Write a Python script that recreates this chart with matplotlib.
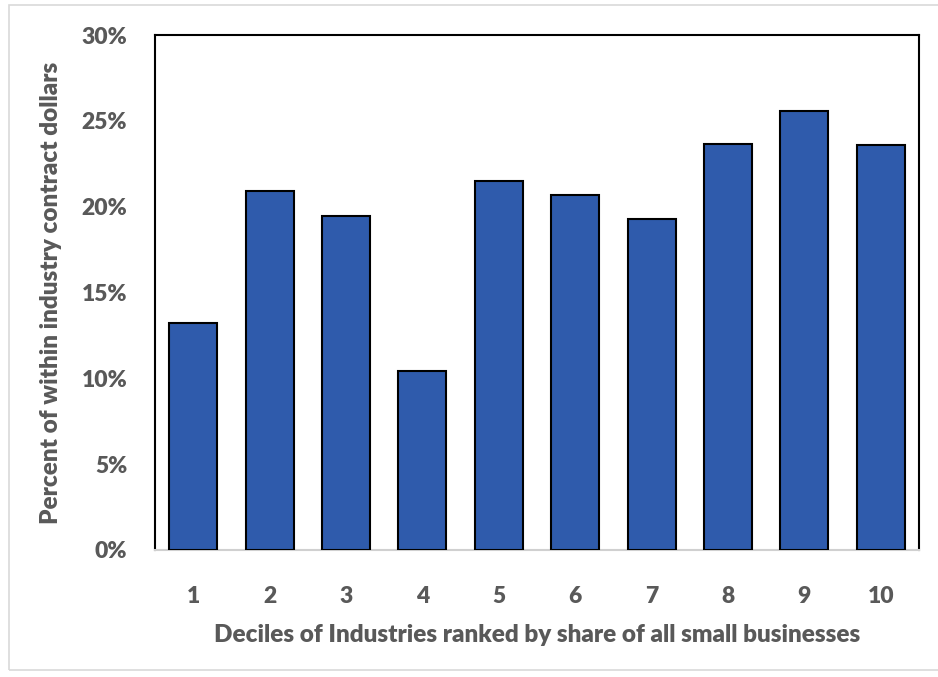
import matplotlib.pyplot as plt
from matplotlib.patches import Rectangle
from matplotlib.ticker import FuncFormatter

# share of within-industry contract dollars by decile
deciles = ["1", "2", "3", "4", "5", "6", "7", "8", "9", "10"]
share = [13.2, 20.9, 19.45, 10.4, 21.5, 20.7, 19.3, 23.65, 25.6, 23.6]

plt.rcParams['font.family'] = ['Lato', 'DejaVu Sans']
text_color = "#595959"

fig = plt.figure(figsize=(9.38, 6.77), dpi=100)
ax = fig.add_axes([155 / 938, 1 - 550 / 677, 764 / 938, 515 / 677])

x = range(len(deciles))
ax.bar(x, share, width=0.63, color="#2F5BAC", edgecolor="black", linewidth=1.5, zorder=3)

ax.set_xlim(-0.5, len(deciles) - 0.5)
ax.set_ylim(0, 30)
ax.set_yticks(range(0, 31, 5))
ax.yaxis.set_major_formatter(FuncFormatter(lambda v, _: f"{v:.0f}%"))
ax.set_xticks(list(x))
ax.set_xticklabels(deciles)
ax.tick_params(length=0, labelsize=16.5, labelcolor=text_color)
ax.tick_params(axis="x", pad=26)
ax.tick_params(axis="y", pad=20)
for lbl in ax.get_xticklabels() + ax.get_yticklabels():
    lbl.set_fontweight("heavy")

for side in ("left", "top", "right"):
    ax.spines[side].set_color("black")
    ax.spines[side].set_linewidth(1.5)
ax.spines["bottom"].set_color("#D0D0D0")
ax.spines["bottom"].set_linewidth(1.5)

ax.set_xlabel("Deciles of Industries ranked by share of all small businesses",
              fontsize=17.5, fontweight="heavy", color=text_color, labelpad=12)
ax.set_ylabel("Percent of within industry contract dollars",
              fontsize=17.5, fontweight="heavy", color=text_color, labelpad=14)

# light frame around the chart
fig.patches.append(Rectangle((9 / 938, 7 / 677), 1.2, 1 - 12 / 677,
                             transform=fig.transFigure, fill=False,
                             edgecolor="#D9D9D9", linewidth=1.2))

fig.savefig("out.png", dpi=100)
